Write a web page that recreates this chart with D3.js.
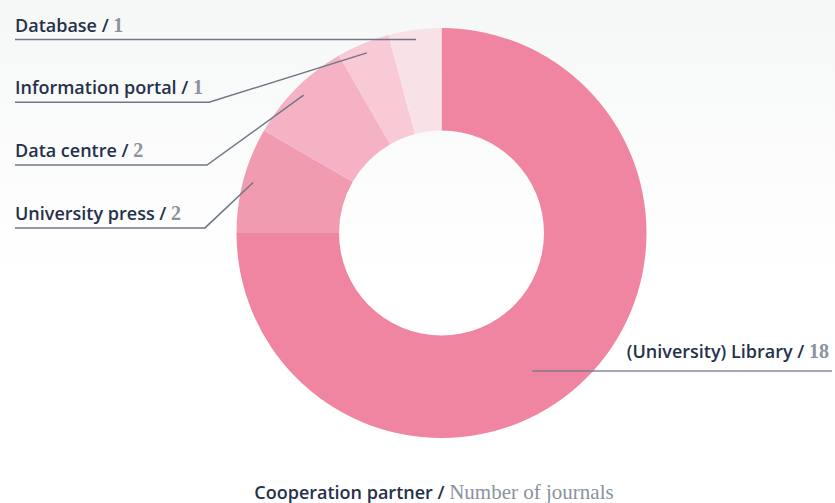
<!DOCTYPE html>
<html><head><meta charset="utf-8">
<script src="https://cdn.jsdelivr.net/npm/d3@7/dist/d3.min.js"></script>
<style>html,body{margin:0;padding:0;background:#fff;}svg{display:block;}</style>
</head><body>
<script>
const categories = ["(University) Library", "University press", "Data centre", "Information portal", "Database"];
const values = [18, 2, 2, 1, 1];
const colors = ["#ef85a1", "#f19bb1", "#f5b2c4", "#f8cad6", "#f9e1e8"];
const titleMain = "Cooperation partner";
const titleSub = "Number of journals";

const W = 835, H = 503;
const cx = 441.5, cy = 233, outerR = 205, innerR = 102.5, labelR = 195;

const svg = d3.select("body").append("svg").attr("width", W).attr("height", H);
const defs = svg.append("defs");
const grad = defs.append("linearGradient").attr("id", "bg").attr("x1", 0).attr("y1", 0).attr("x2", 0).attr("y2", 1);
grad.append("stop").attr("offset", "0%").attr("stop-color", "#f6f7f7");
grad.append("stop").attr("offset", "55%").attr("stop-color", "#ffffff");
svg.append("rect").attr("width", W).attr("height", H).attr("fill", "url(#bg)");

const data = categories.map((c, i) => ({name: c, value: values[i], color: colors[i]}));
const pie = d3.pie().value(d => d.value).sort(null).startAngle(0).endAngle(2 * Math.PI);
const arcs = pie(data);
const arc = d3.arc().innerRadius(innerR).outerRadius(outerR);
const labelArc = d3.arc().innerRadius(labelR).outerRadius(labelR);

const g = svg.append("g").attr("transform", `translate(${cx},${cy})`);
g.selectAll("path.slice").data(arcs).join("path").attr("class", "slice")
  .attr("d", arc).attr("fill", d => d.data.color);

const lineColor = "#6f7787";
const sansFont = "'Open Sans', Lato, sans-serif";
const serifFont = "'Liberation Serif', 'DejaVu Serif', serif";

function addLabel(x, y, anchor, name, value) {
  const t = svg.append("text").attr("x", x).attr("y", y).attr("text-anchor", anchor)
    .attr("font-family", sansFont).attr("font-size", 18).attr("font-weight", 600).attr("fill", "#25314a");
  t.append("tspan").text(name + " / ");
  t.append("tspan").attr("font-family", serifFont).attr("font-size", 20).attr("font-weight", 700).attr("fill", "#8b929d").text(value);
}

// left labels: all slices except the first (library)
const leftArcs = arcs.slice(1).reverse(); // Database first at top
leftArcs.forEach((a, k) => {
  const [px, py] = labelArc.centroid(a);
  const ax = cx + px, ay = cy + py;
  const uy = 39.5 + k * 62.8;
  let pts;
  if (k === 0) {
    pts = [[15, uy], [ax, uy]];
  } else {
    const ex = 211 - 2 * k;
    pts = [[15, uy], [ex, uy], [ax, ay]];
  }
  svg.append("path").attr("d", d3.line()(pts)).attr("fill", "none").attr("stroke", lineColor).attr("stroke-width", 1.5);
  addLabel(15, uy - 8, "start", a.data.name, a.data.value);
});

// right label: library
{
  const a = arcs[0];
  const [px, py] = labelArc.centroid(a);
  const ay = cy + py;
  svg.append("path").attr("d", d3.line()([[cx + px - 47, ay], [832, ay]]))
    .attr("fill", "none").attr("stroke", lineColor).attr("stroke-opacity", 0.85).attr("stroke-width", 1.5);
  addLabel(829, ay - 13, "end", a.data.name, a.data.value);
}

// bottom title
const tt = svg.append("text").attr("x", 434).attr("y", 499).attr("text-anchor", "middle")
  .attr("font-family", sansFont).attr("font-size", 18).attr("font-weight", 600).attr("fill", "#25314a");
tt.append("tspan").text(titleMain + " / ");
tt.append("tspan").attr("font-family", serifFont).attr("font-size", 21).attr("font-weight", 400).attr("fill", "#8b929d").text(titleSub);
</script>
</body></html>
